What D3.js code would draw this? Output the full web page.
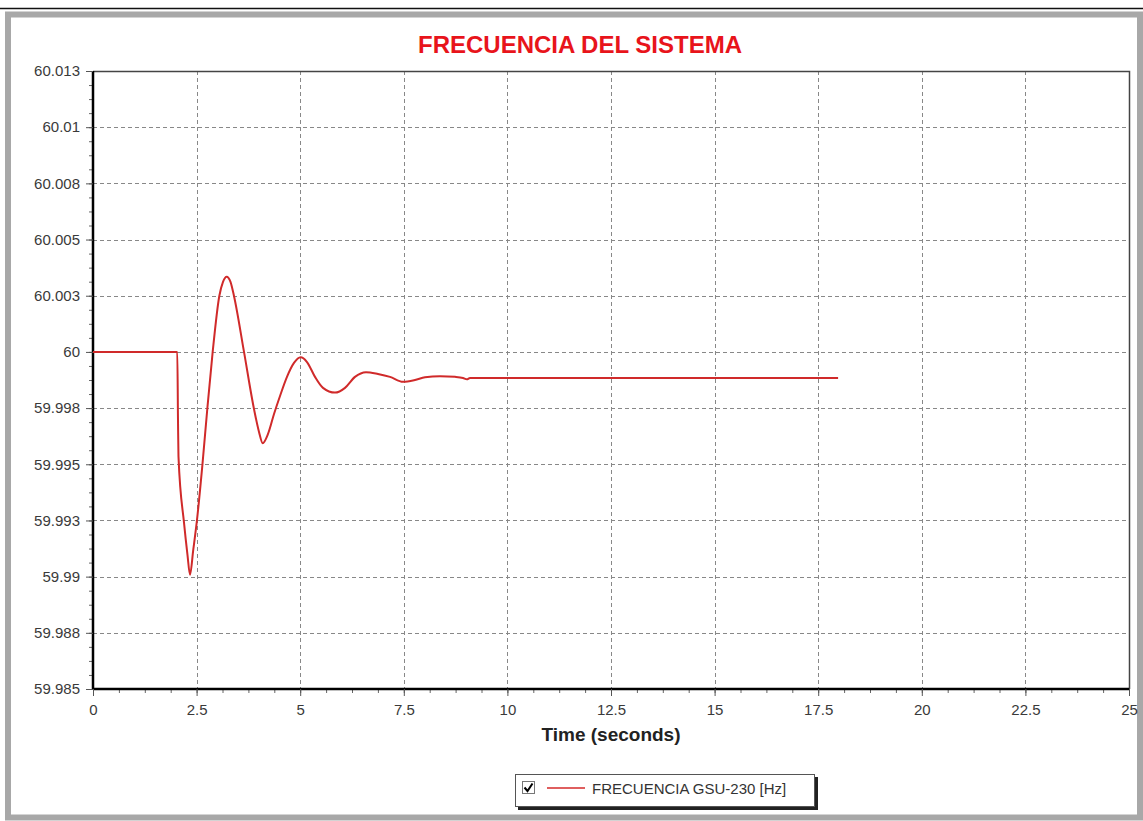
<!DOCTYPE html>
<html>
<head>
<meta charset="utf-8">
<script src="https://cdn.jsdelivr.net/npm/d3@7"></script>
<style>
  body { margin: 0; background: #fff; }
  svg { display: block; font-family: "Liberation Sans", Arial, sans-serif; }
</style>
</head>
<body>
<svg id="chart"></svg>
<script>
// datos (tiempo en s, frecuencia en Hz)
const timeSec = [0, 2.034, 2.051, 2.063, 2.196, 2.28, 2.341, 2.419, 2.502, 2.638, 2.758, 2.888,
    3.048, 3.137, 3.226, 3.318, 3.402, 3.644, 3.885, 4.006, 4.095, 4.223, 4.368, 4.513, 4.681, 4.85,
    5.012, 5.164, 5.357, 5.55, 5.84, 6.081, 6.322, 6.588, 6.877, 7.167, 7.481, 7.77, 8.012, 8.373,
    8.735, 8.929, 9.025, 9.097, 12.0, 17.98];
const freqHz = [60.0, 60.0, 59.99697, 59.99534, 59.9924, 59.99097, 59.99008, 59.99119,
    59.9924, 59.99493, 59.99746, 60.0, 60.00249, 60.00312, 60.00335, 60.00312, 60.00249, 60.0,
    59.99746, 59.99644, 59.99594, 59.99635, 59.99724, 59.99804, 59.99889, 59.99951, 59.99976,
    59.99955, 59.99889, 59.9984, 59.99819, 59.9984, 59.99889, 59.9991, 59.99902, 59.99889,
    59.99867, 59.99875, 59.99887, 59.99892, 59.99889, 59.99884, 59.99878, 59.99884, 59.99884, 59.99884];

const xTicks = [0, 2.5, 5, 7.5, 10, 12.5, 15, 17.5, 20, 22.5, 25];
const xTickLabels = ['0', '2.5', '5', '7.5', '10', '12.5', '15', '17.5', '20', '22.5', '25'];
const yTicks = [59.985, 59.9875, 59.99, 59.9925, 59.995, 59.9975, 60, 60.0025, 60.005, 60.0075, 60.01, 60.0125];
const yTickLabels = ['59.985', '59.988', '59.99', '59.993', '59.995', '59.998', '60', '60.003', '60.005', '60.008', '60.01', '60.013'];

const seriesName = 'FRECUENCIA GSU-230 [Hz]';
const titleText = 'FRECUENCIA DEL SISTEMA';
const xTitle = 'Time (seconds)';

const W = 1143, H = 821;
const plot = { left: 93, top: 71, right: 1129, bottom: 689 };

const svg = d3.select('#chart').attr('width', W).attr('height', H);

// marco de la ventana
svg.append('line').attr('x1', 0).attr('x2', W).attr('y1', 8.5).attr('y2', 8.5)
    .attr('stroke', '#111').attr('stroke-width', 1.5);
svg.append('rect').attr('x', 8).attr('y', 14.5).attr('width', 1132).attr('height', 803)
    .attr('fill', '#fff').attr('stroke', '#a8a8a8').attr('stroke-width', 6);

const x = d3.scaleLinear().domain([0, 25]).range([plot.left, plot.right]);
const y = d3.scaleLinear().domain([59.985, 60.0125]).range([plot.bottom, plot.top]);

// grilla
const grid = svg.append('g').attr('stroke', '#888').attr('stroke-dasharray', '4,3').attr('stroke-width', 1);
grid.selectAll('.gx').data(xTicks.slice(1, -1)).enter().append('line')
    .attr('x1', d => Math.round(x(d)) + 0.5).attr('x2', d => Math.round(x(d)) + 0.5)
    .attr('y1', plot.top).attr('y2', plot.bottom);
grid.selectAll('.gy').data(yTicks.slice(1, -1)).enter().append('line')
    .attr('y1', d => Math.round(y(d)) + 0.5).attr('y2', d => Math.round(y(d)) + 0.5)
    .attr('x1', plot.left).attr('x2', plot.right);

// borde superior y derecho
svg.append('path')
    .attr('d', `M${plot.left},${plot.top + 0.5}H${plot.right + 0.5}V${plot.bottom}`)
    .attr('fill', 'none').attr('stroke', '#444').attr('stroke-width', 1.5);

// ejes
const xMinor = d3.range(0, 25.001, 0.625);
const yMinor = d3.range(59.985, 60.01251, 0.000625);

const gxMinor = svg.append('g').attr('transform', `translate(0,${plot.bottom})`)
    .call(d3.axisBottom(x).tickValues(xMinor).tickSize(4).tickFormat(''));
const gyMinor = svg.append('g').attr('transform', `translate(${plot.left},0)`)
    .call(d3.axisLeft(y).tickValues(yMinor).tickSize(4).tickFormat(''));
[gxMinor, gyMinor].forEach(g => {
    g.select('.domain').remove();
    g.selectAll('line').attr('stroke', '#666');
});

const gx = svg.append('g').attr('transform', `translate(0,${plot.bottom})`)
    .call(d3.axisBottom(x).tickValues(xTicks).tickSize(7).tickPadding(8)
        .tickFormat((d, i) => xTickLabels[i]));
const gy = svg.append('g').attr('transform', `translate(${plot.left},0)`)
    .call(d3.axisLeft(y).tickValues(yTicks).tickSize(7).tickPadding(6)
        .tickFormat((d, i) => yTickLabels[i]));
[gx, gy].forEach(g => {
    g.select('.domain').attr('stroke', '#000').attr('stroke-width', 2.5);
    g.selectAll('.tick line').attr('stroke', '#555');
    g.selectAll('.tick text').attr('fill', '#3a3a3a').style('font-size', '15px')
        .style('font-family', '"Liberation Sans", Arial, sans-serif');
});
gx.select('.domain').attr('d', `M${plot.left},0H${plot.right}`);
gy.select('.domain').attr('d', `M0,${plot.top}V${plot.bottom}`);

// serie
const pts = timeSec.map((t, i) => [t, freqHz[i]]);
const line = d3.line().x(d => x(d[0])).y(d => y(d[1])).curve(d3.curveMonotoneX);
svg.append('path').datum(pts).attr('d', line)
    .attr('fill', 'none').attr('stroke', '#d02a2a').attr('stroke-width', 2);

// titulos
svg.append('text').attr('x', 580).attr('y', 53).attr('text-anchor', 'middle')
    .attr('fill', '#e8141b').style('font-size', '24px').style('font-weight', 'bold')
    .text(titleText);
svg.append('text').attr('x', 611).attr('y', 741).attr('text-anchor', 'middle')
    .attr('fill', '#222').style('font-size', '19px').style('font-weight', 'bold')
    .text(xTitle);

// leyenda
const lg = svg.append('g').attr('transform', 'translate(515,774)');
lg.append('rect').attr('x', 3).attr('y', 3).attr('width', 300).attr('height', 33).attr('fill', '#222');
lg.append('rect').attr('x', 0.5).attr('y', 0.5).attr('width', 299).attr('height', 32)
    .attr('fill', '#fff').attr('stroke', '#555');
lg.append('rect').attr('x', 7.5).attr('y', 7.5).attr('width', 12).attr('height', 12)
    .attr('fill', '#fff').attr('stroke', '#777');
lg.append('path').attr('d', 'M9.5,13.5 L12.5,17 L17.5,9.5').attr('fill', 'none')
    .attr('stroke', '#000').attr('stroke-width', 2);
lg.append('line').attr('x1', 32).attr('x2', 70).attr('y1', 14).attr('y2', 14)
    .attr('stroke', '#d42a2a').attr('stroke-width', 1.5);
lg.append('text').attr('x', 77).attr('y', 20).attr('fill', '#333')
    .style('font-size', '15px').text(seriesName);
</script>
</body>
</html>
